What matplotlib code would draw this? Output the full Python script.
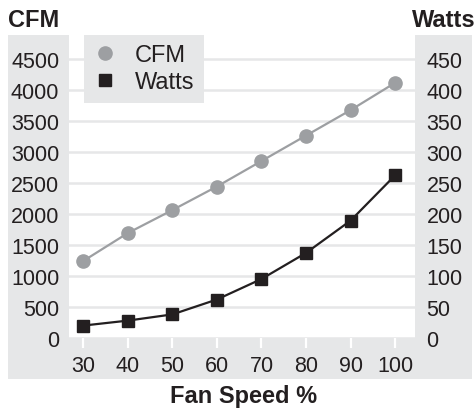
import matplotlib
matplotlib.use("Agg")
import matplotlib.pyplot as plt
from matplotlib.patches import Rectangle
from matplotlib.lines import Line2D

plt.rcParams["font.family"] = ["Liberation Sans", "DejaVu Sans"]

# ── DATA ─────────────────────────────────────────────────────
fan_speed = [30, 40, 50, 60, 70, 80, 90, 100]
cfm       = [1240, 1690, 2060, 2440, 2850, 3260, 3670, 4110]
watts     = [20, 28, 38, 62, 95, 137, 189, 262]

cfm_ticks   = [0, 500, 1000, 1500, 2000, 2500, 3000, 3500, 4000, 4500]
watts_ticks = [0, 50, 100, 150, 200, 250, 300, 350, 400, 450]

PANEL = "#e6e7e8"
GREY  = "#9d9fa2"
DARK  = "#231f20"
FS    = 15.5
FS_L  = 17
FS_B  = 17

W, H = 477, 410
fig = plt.figure(figsize=(W / 100, H / 100), dpi=100)

# grey backdrop panel behind the plot
fig.patches.append(Rectangle((8 / W, 30 / H), 464 / W, 344 / H,
                             transform=fig.transFigure, facecolor=PANEL,
                             edgecolor="none", zorder=-10))

ax1 = fig.add_axes([69 / W, 71 / H, 345.7 / W, 303 / H])
ax1.set_facecolor("white")
ax2 = ax1.twinx()

ax1.plot(fan_speed, cfm, color=GREY, lw=1.6, marker="o", ms=9.5,
         label="CFM", zorder=3)
ax2.plot(fan_speed, watts, color=DARK, lw=1.6, marker="s", ms=9,
         label="Watts", zorder=3)

ax1.set_xlim(26.8, 104.4)
ax1.set_ylim(0, 4880)
ax2.set_ylim(0, 488)

ax1.set_xticks(fan_speed)
ax1.set_yticks(cfm_ticks)
ax2.set_yticks(watts_ticks)

ax1.grid(axis="y", color=PANEL, lw=1.8)
ax1.set_axisbelow(True)

for ax in (ax1, ax2):
    for s in ax.spines.values():
        s.set_visible(False)

ax1.tick_params(axis="x", direction="out", length=7.5, width=1.6,
                color="white", pad=5, labelsize=FS, labelcolor=DARK)
ax1.tick_params(axis="y", length=0, pad=7, labelsize=FS, labelcolor=DARK)
ax2.tick_params(axis="y", length=0, pad=8.5, labelsize=FS, labelcolor=DARK)

handles = [
    Line2D([0], [0], color=GREY, marker="o", ls="none", ms=9.5, label="CFM"),
    Line2D([0], [0], color=DARK, marker="s", ls="none", ms=9, label="Watts"),
]
leg = ax2.legend(handles=handles, loc="upper left", bbox_to_anchor=(0.043, 1.0),
                 borderaxespad=0, fontsize=FS_L, frameon=True, fancybox=False,
                 facecolor=PANEL, edgecolor="none", framealpha=1,
                 handlelength=1.0, handletextpad=0.75, borderpad=0.4,
                 labelspacing=0.2)
for t in leg.get_texts():
    t.set_color(DARK)

fig.text(8 / W, 1 - 26.7 / H, "CFM", fontsize=FS_B, fontweight="bold",
         color=DARK, ha="left", va="baseline")
fig.text(476 / W, 1 - 26.7 / H, "Watts", fontsize=FS_B, fontweight="bold",
         color=DARK, ha="right", va="baseline")
fig.text(244 / W, 1 - 403 / H, "Fan Speed %", fontsize=FS_B, fontweight="bold",
         color=DARK, ha="center", va="baseline")

fig.savefig("out.png", dpi=100)
